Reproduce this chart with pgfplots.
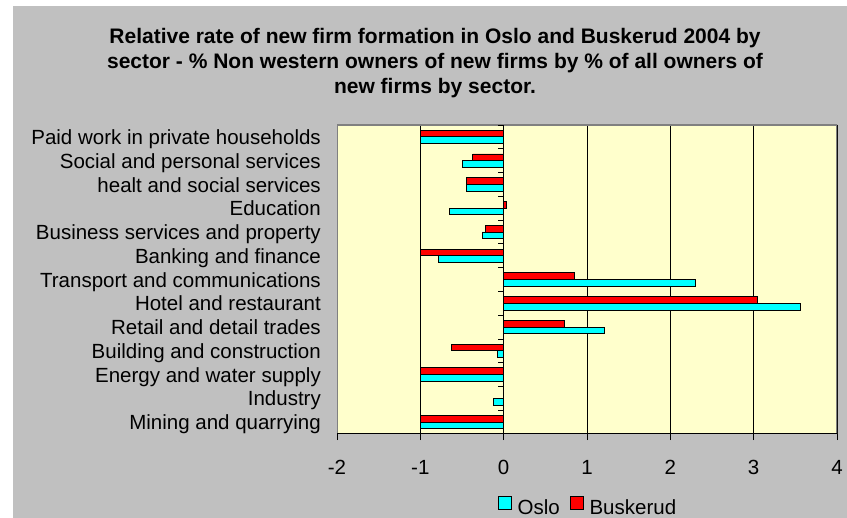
\documentclass[border=0pt]{standalone}
\usepackage{fontspec}
\setmainfont{Liberation Sans}
\usepackage{pgfplots}
\usepackage{pgfplotstable}
\pgfplotsset{compat=1.18}

\definecolor{xlgray}{HTML}{C0C0C0}
\definecolor{xlyellow}{HTML}{FFFFCC}
\definecolor{xlborder}{HTML}{808080}
\definecolor{xlcyan}{HTML}{00FFFF}
\definecolor{xlred}{HTML}{FF0000}

% y: 0 = Mining ... 12 = Paid work
\pgfplotstableread{
y  oslo   busk
0  -1.00  -1.00
1  -0.12   0.00
2  -1.00  -1.00
3  -0.07  -0.63
4   1.21   0.73
5   3.56   3.05
6   2.30   0.85
7  -0.78  -1.00
8  -0.26  -0.22
9  -0.65   0.03
10 -0.45  -0.45
11 -0.49  -0.37
12 -1.00  -1.00
}\sectordata

\begin{document}
\begin{tikzpicture}
\fill[white] (0,0) rectangle (847bp,518bp);
\fill[xlgray] (13bp,0) rectangle (847bp,512bp);
\node[anchor=north, align=center, inner sep=0pt,
      font=\fontsize{21bp}{25bp}\selectfont\bfseries] at (435bp,490bp)
  {Relative rate of new firm formation in Oslo and Buskerud 2004 by\\
   sector - \% Non western owners of new firms by \% of all owners of\\
   new firms by sector.};
\begin{axis}[
    at={(337bp,84bp)}, anchor=south west,
    scale only axis, width=500bp, height=309bp,
    xbar, bar width=6.7bp,
    xmin=-2, xmax=4, ymin=-0.5, ymax=12.5,
    xtick={-2,...,4}, ytick={0,...,12},
    yticklabels={Mining and quarrying, Industry, Energy and water supply,
        Building and construction, Retail and detail trades,
        Hotel and restaurant, Transport and communications,
        Banking and finance, Business services and property,
        Education, healt and social services,
        Social and personal services, Paid work in private households},
    axis background/.style={fill=xlyellow},
    axis line style={draw=none},
    xmajorgrids, major grid style={black, line width=0.8bp},
    xtick pos=left, tick align=outside, major tick length=6bp,
    xtick style={black, line width=0.8bp},
    ytick style={draw=none},
    font=\fontsize{20.5bp}{24bp}\selectfont,
    /pgf/number format/assume math mode=true,
    xticklabel style={anchor=center, yshift=-31bp, text height=0.72em, text depth=0pt, inner sep=0pt},
    yticklabel style={anchor=east, xshift=-10bp, yshift=-4bp, text height=0.72em, text depth=0pt, inner sep=0pt},
    legend style={at={(0.5,-0.230)}, anchor=center, draw=none, fill=none,
        legend columns=-1, font=\fontsize{20.5bp}{24bp}\selectfont,
        /tikz/every even column/.append style={column sep=10bp},
        nodes={inner sep=0pt, text height=0.72em, text depth=0pt}},
    legend image code/.code={
        \draw[#1] (0bp,0.9bp) rectangle (13bp,13.9bp);
        \path (19bp,7.4bp);},
]
\addplot[fill=xlcyan, draw=black, line width=0.8bp, bar shift=-3.35bp] table[x=oslo, y=y] {\sectordata};
\addlegendentry{Oslo}
\addplot[fill=xlred, draw=black, line width=0.8bp, bar shift=3.35bp] table[x=busk, y=y] {\sectordata};
\addlegendentry{Buskerud}

\draw[xlborder, line width=1.5bp] (rel axis cs:0,0) rectangle (rel axis cs:1,1);
\draw[black, line width=1bp] (rel axis cs:0,0) -- (rel axis cs:1,0);
\pgfplotsinvokeforeach{-0.5,0.5,...,12.5}{
  \draw[black, line width=0.8bp] (axis cs:0,#1) -- ++(-6bp,0pt);
}
\end{axis}
\end{tikzpicture}
\end{document}
